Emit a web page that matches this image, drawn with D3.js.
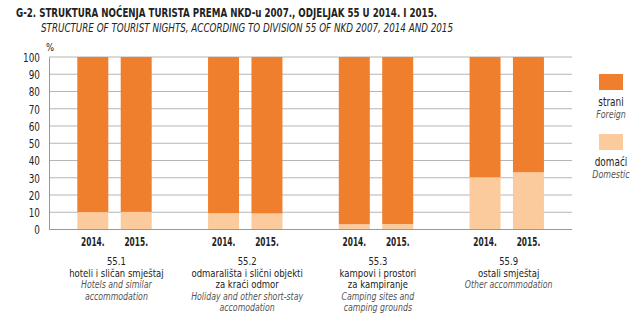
<!DOCTYPE html>
<html><head><meta charset="utf-8">
<script src="https://cdn.jsdelivr.net/npm/d3@7"></script>
<style>
body{margin:0;background:#fff;}
text{font-family:"DejaVu Sans Condensed","Liberation Sans Narrow",sans-serif;}
</style></head>
<body><svg id="c" width="643" height="321"></svg>
<script>
const groupCodes = ["55.1","55.2","55.3","55.9"];
const groupNamesHr = [["hoteli i sličan smještaj"],["odmarališta i slični objekti","za kraći odmor"],["kampovi i prostori","za kampiranje"],["ostali smještaj"]];
const groupNamesEn = [["Hotels and similar","accommodation"],["Holiday and other short-stay","accomodation"],["Camping sites and","camping grounds"],["Other accommodation"]];
const years = ["2014.","2015."];
const domestic = [[10.1,10.2],[9.5,9.3],[3.1,3.2],[30.3,33.2]];
const foreign = domestic.map(r=>r.map(v=>+(100-v).toFixed(1)));
const yTicks = [0,10,20,30,40,50,60,70,80,90,100];

const svg = d3.select("#c");
const L=49, R=572, T=57, B=229.5;
const ORANGE="#F07F2D", LIGHT="#FBCB9E";

const x0 = d3.scaleBand().domain(groupCodes).range([L,R]).padding(0);
const x1 = d3.scaleBand().domain(years).range([28.3,102.7]).paddingInner(0.286).paddingOuter(0);
const y = d3.scaleLinear().domain([0,100]).range([B,T]);

function txt(parent,x,yy,str,o={}){
  return parent.append("text")
    .attr("transform",`translate(${x},${yy}) scale(${o.sx||0.86},1)`)
    .attr("text-anchor",o.anchor||"middle")
    .attr("font-size",o.size||11)
    .attr("font-weight",o.weight||"normal")
    .attr("font-style",o.italic?"italic":"normal")
    .attr("fill",o.fill||"#222").text(str);
}

// title
svg.append("text").attr("x",16).attr("y",17).attr("font-weight","bold").attr("font-size",12.5)
  .attr("fill","#222").attr("textLength",421).attr("lengthAdjust","spacingAndGlyphs")
  .text("G-2.  STRUKTURA NOĆENJA TURISTA PREMA NKD-u 2007., ODJELJAK 55 U 2014. I 2015.");
svg.append("text").attr("x",41).attr("y",32).attr("font-style","italic").attr("font-size",11.5)
  .attr("fill","#222").attr("textLength",412).attr("lengthAdjust","spacingAndGlyphs")
  .text("STRUCTURE OF TOURIST NIGHTS, ACCORDING TO DIVISION 55 OF NKD 2007, 2014 AND 2015");

// gridlines
svg.append("g").selectAll("line").data(yTicks.filter(d=>d>0)).join("line")
  .attr("x1",L).attr("x2",R).attr("y1",d=>y(d)).attr("y2",d=>y(d))
  .attr("stroke","#b5b5b5").attr("stroke-width",1);

// y axis
const ya = svg.append("g").attr("transform",`translate(${L},0)`)
  .call(d3.axisLeft(y).tickValues(yTicks).tickSize(0).tickPadding(9));
ya.select(".domain").attr("stroke","#999");
ya.selectAll(".tick text").each(function(){
  const t=d3.select(this);
  t.attr("x",null).attr("dy",null).attr("font-size",12).attr("fill","#222").attr("font-family",null)
   .attr("text-anchor","end").attr("transform",`translate(-9,4.3) scale(0.82,1)`);
});
txt(svg,50,51,"%",{size:11});

// bars
const g = svg.append("g").selectAll("g").data(groupCodes).join("g")
  .attr("transform",d=>`translate(${x0(d)},0)`);
g.each(function(code,gi){
  const sel = d3.select(this);
  years.forEach((yr,yi)=>{
    const dv = domestic[gi][yi], fv = foreign[gi][yi];
    sel.append("rect").attr("x",x1(yr)).attr("width",x1.bandwidth())
      .attr("y",y(dv)).attr("height",y(0)-y(dv)).attr("fill",LIGHT);
    sel.append("rect").attr("x",x1(yr)).attr("width",x1.bandwidth())
      .attr("y",y(dv+fv)).attr("height",y(dv)-y(dv+fv)).attr("fill",ORANGE);
    txt(sel,x1(yr)+x1.bandwidth()/2,246,yr,{size:11.5,weight:"bold",sx:0.72});
  });
  const cx = x0.bandwidth()/2+2;
  let yy = 265;
  txt(sel,cx,yy,code,{size:11});
  groupNamesHr[gi].forEach(t=>{ yy+=11.5; txt(sel,cx,yy,t,{size:11}); });
  groupNamesEn[gi].forEach(t=>{ yy+=11.5; txt(sel,cx,yy,t,{size:10.5,italic:true,fill:"#555",sx:0.83}); });
});

// bottom axis line
svg.append("line").attr("x1",L).attr("x2",R).attr("y1",B).attr("y2",B).attr("stroke","#999");

// legend
const legend = [{c:ORANGE,hr:"strani",en:"Foreign",y:74},{c:LIGHT,hr:"domaći",en:"Domestic",y:134}];
const lg = svg.append("g");
legend.forEach(d=>{
  lg.append("rect").attr("x",599).attr("y",d.y).attr("width",24).attr("height",16).attr("fill",d.c);
  txt(lg,611,d.y+32,d.hr,{size:11.5});
  txt(lg,611,d.y+44,d.en,{size:11,italic:true,fill:"#555",sx:0.8});
});
</script></body></html>
